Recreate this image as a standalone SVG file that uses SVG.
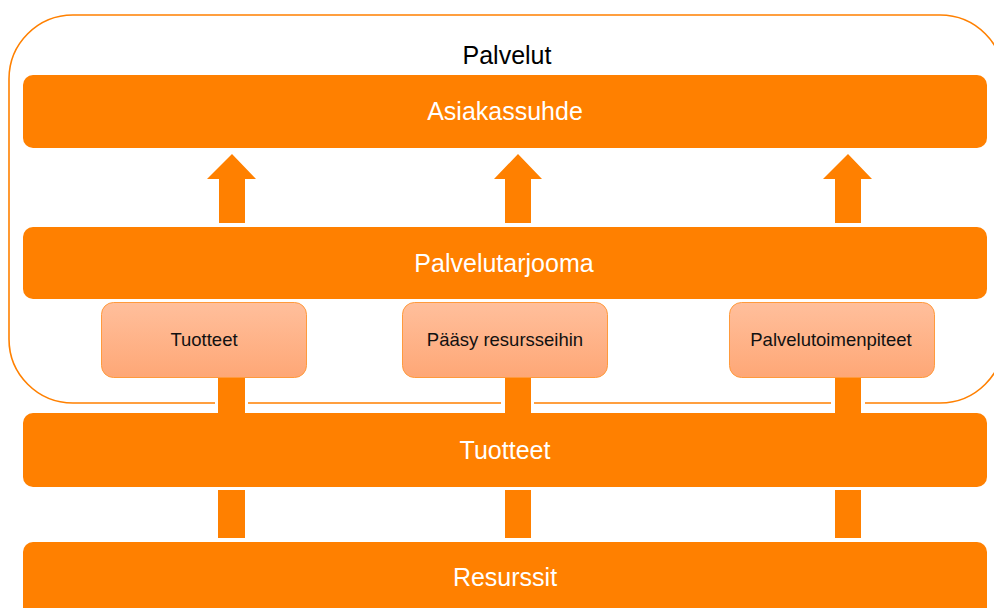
<svg xmlns="http://www.w3.org/2000/svg" width="994" height="608" viewBox="0 0 994 608">
  <defs>
    <linearGradient id="peach" x1="0" y1="0" x2="0" y2="1">
      <stop offset="0" stop-color="#FFBF9C"/>
      <stop offset="1" stop-color="#FEA776"/>
    </linearGradient>
    <style>
      .bar { fill: #FF8000; }
      .frame { fill: none; stroke: #FF8000; stroke-width: 1.6; }
      .box { fill: url(#peach); stroke: #FF9A3C; stroke-width: 1; }
      .barText { font-family: "Liberation Sans", Arial, sans-serif; font-size: 25px; fill: #FFFFFF; text-anchor: middle; }
      .boxText { font-family: "Liberation Sans", Arial, sans-serif; font-size: 18.5px; fill: #111111; text-anchor: middle; }
      .title { font-family: "Liberation Sans", Arial, sans-serif; font-size: 25px; fill: #000000; text-anchor: middle; }
      .arrow { fill: #FF8000; }
      .gap { fill: #FFFFFF; }
    </style>
  </defs>
  <rect width="994" height="608" fill="#FFFFFF"/>

  <g id="palvelut">
    <rect class="frame" x="9" y="15" width="995" height="388" rx="64" ry="64"/>
    <text class="title" x="507" y="64">Palvelut</text>
  </g>

  <g id="connectors">
    <path class="arrow" d="M232,154 L256,179 L245,179 L245,223 L219,223 L219,179 L207,179 Z"/>
    <path class="arrow" d="M518,154 L542,179 L531,179 L531,223 L505,223 L505,179 L494,179 Z"/>
    <path class="arrow" d="M848,154 L872,179 L861,179 L861,223 L835,223 L835,179 L823,179 Z"/>
    <rect class="gap" x="215" y="398" width="33" height="10"/>
    <rect class="gap" x="501" y="398" width="33" height="10"/>
    <rect class="gap" x="831" y="398" width="34" height="10"/>
    <rect class="arrow" x="218" y="377" width="27" height="37"/>
    <rect class="arrow" x="505" y="377" width="26" height="37"/>
    <rect class="arrow" x="835" y="377" width="26" height="37"/>
    <rect class="arrow" x="218" y="490" width="27" height="48"/>
    <rect class="arrow" x="505" y="490" width="26" height="48"/>
    <rect class="arrow" x="835" y="490" width="26" height="48"/>
  </g>

  <g id="asiakassuhde">
    <rect class="bar" x="23" y="75" width="964" height="73" rx="10" ry="10"/>
    <text class="barText" x="505" y="120">Asiakassuhde</text>
  </g>

  <g id="palvelutarjooma">
    <rect class="bar" x="23" y="227" width="964" height="72" rx="10" ry="10"/>
    <text class="barText" x="504" y="272">Palvelutarjooma</text>
  </g>

  <g id="box-tuotteet">
    <rect class="box" x="101.5" y="302.5" width="205" height="75" rx="12" ry="12"/>
    <text class="boxText" x="204" y="346">Tuotteet</text>
  </g>

  <g id="box-paasy">
    <rect class="box" x="402.5" y="302.5" width="205" height="75" rx="12" ry="12"/>
    <text class="boxText" x="505" y="346">Pääsy resursseihin</text>
  </g>

  <g id="box-palvelutoimenpiteet">
    <rect class="box" x="729.5" y="302.5" width="205" height="75" rx="12" ry="12"/>
    <text class="boxText" x="831" y="346">Palvelutoimenpiteet</text>
  </g>

  <g id="tuotteet">
    <rect class="bar" x="23" y="413" width="964" height="74" rx="10" ry="10"/>
    <text class="barText" x="505" y="459">Tuotteet</text>
  </g>

  <g id="resurssit">
    <rect class="bar" x="23" y="542" width="964" height="80" rx="10" ry="10"/>
    <text class="barText" x="505" y="586">Resurssit</text>
  </g>
</svg>
